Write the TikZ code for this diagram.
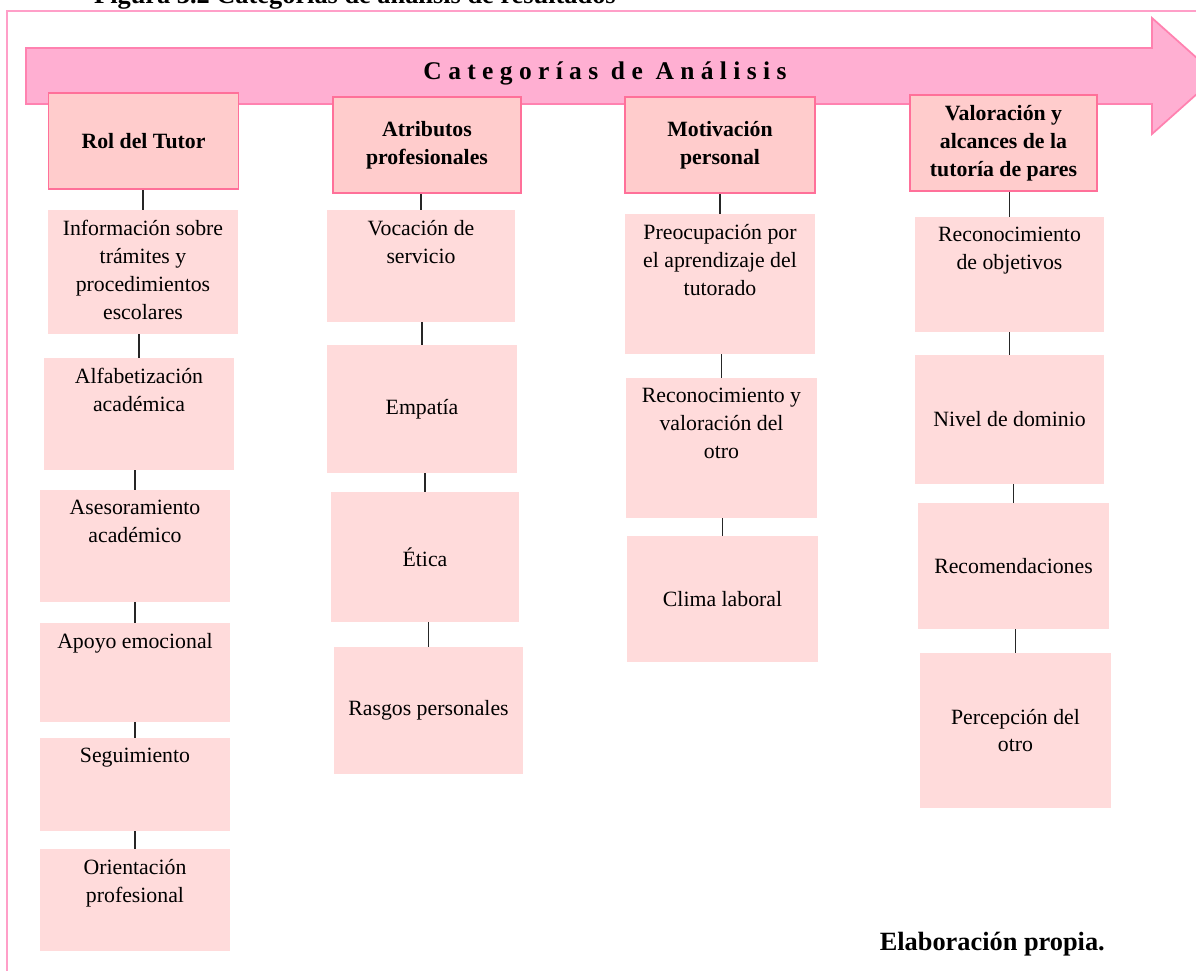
\documentclass[tikz,border=0pt]{standalone}
\usepackage{fontspec}
\usepackage{xcolor}
\usepackage{tikz}
\setmainfont{Liberation Serif}
\newfontfamily\spacedfont{Liberation Serif}[LetterSpace=25]

\definecolor{framepink}{HTML}{FF9FC8}
\definecolor{arrowfill}{HTML}{FFAFD2}
\definecolor{arrowline}{HTML}{FF82B0}
\definecolor{headfill}{HTML}{FFCCCC}
\definecolor{headline}{HTML}{FF7099}
\definecolor{cellfill}{HTML}{FFDBDB}

% text sits at the top of the cell
\newcommand{\toptext}[2]{\parbox[c][#1][t]{3.7cm}{\centering\vspace*{6pt}#2}}

\tikzset{
    boxfont/.style={font=\fontsize{12.4}{15.9}\selectfont},
    head/.style={boxfont,draw=headline,fill=headfill,line width=1.1pt,inner sep=0pt,
        minimum width=3.8cm,minimum height=1.92cm,align=center,font=\fontsize{12.4}{15.9}\selectfont\bfseries},
    cell/.style={boxfont,fill=cellfill,inner sep=0pt,minimum width=3.8cm,align=center},
    tick/.style={line width=1.1pt,black!85}
}

\begin{document}
\begin{tikzpicture}[x=0.02cm,y=-0.02cm]
    \clip (0,0) rectangle (1196,970);
    \node[anchor=base west,font=\fontsize{15}{18}\selectfont\bfseries] (figtitle) at (88,4) {Figura 3.2 Categorías de análisis de resultados};
    \draw[framepink,line width=1.1pt] (7,11) rectangle (1220,1000);

    % big arrow
    \draw[arrowline,fill=arrowfill,line width=1pt] (26,48) -- (1152,48) -- (1152,18) -- (1217,76)
        -- (1152,134) -- (1152,104) -- (26,104) -- cycle;
    \node[font=\fontsize{14.5}{17}\spacedfont\bfseries] (analisis) at (605,73) {Categorías de Análisis};

    % headers
    \node[head] (rol) at (143.5,141) {Rol del Tutor};
    \node[head,minimum width=3.76cm] (atrib) at (427,145) {Atributos\\profesionales};
    \node[head,minimum width=3.8cm] (motiv) at (720,145) {Motivación\\personal};
    \node[head,minimum width=3.74cm] (valor) at (1003.5,143) {Valoración y\\alcances de la\\tutoría de pares};

    % Rol del Tutor
    \node[cell] (info) at (143,272) {\toptext{2.48cm}{Información sobre\\trámites y\\procedimientos\\escolares}};
    \node[cell] (alfab) at (139,414) {\toptext{2.24cm}{Alfabetización\\académica}};
    \node[cell] (asesor) at (135,546) {\toptext{2.24cm}{Asesoramiento\\académico}};
    \node[cell] (apoyo) at (135,672.5) {\toptext{1.98cm}{Apoyo emocional}};
    \node[cell] (seguim) at (135,784.5) {\toptext{1.86cm}{Seguimiento}};
    \node[cell] (orient) at (135,900) {\toptext{2.04cm}{Orientación\\profesional}};

    % Atributos profesionales
    \node[cell,minimum width=3.76cm] (vocac) at (421,266) {\toptext{2.24cm}{Vocación de\\servicio}};
    \node[cell,minimum height=2.56cm] (empat) at (422,409) {Empatía};
    \node[cell,minimum width=3.78cm,minimum height=2.6cm] (etica) at (425,557) {Ética};
    \node[cell,minimum width=3.78cm,minimum height=2.54cm] (rasgos) at (428.5,710.5) {Rasgos personales};

    % Motivacion personal
    \node[cell,minimum width=3.82cm] (preoc) at (720,284) {\toptext{2.8cm}{Preocupación por\\el aprendizaje del\\tutorado}};
    \node[cell,minimum width=3.82cm] (recon) at (721.5,448) {\toptext{2.8cm}{Reconocimiento y\\valoración del\\otro}};
    \node[cell,minimum width=3.82cm,minimum height=2.52cm] (clima) at (722.5,599) {Clima laboral};

    % Valoracion y alcances
    \node[cell,minimum width=3.78cm] (objet) at (1009.5,274.5) {\toptext{2.3cm}{Reconocimiento\\de objetivos}};
    \node[cell,minimum width=3.78cm,minimum height=2.58cm] (nivel) at (1009.5,419.5) {Nivel de dominio};
    \node[cell,minimum width=3.82cm,minimum height=2.52cm] (recom) at (1013.5,566) {Recomendaciones};
    \node[cell,minimum width=3.82cm,minimum height=3.1cm] (percep) at (1015.5,730.5) {Percepción del\\otro};

    % short ticks between boxes
    \foreach \a/\b in {rol/info,info/alfab,alfab/asesor,asesor/apoyo,apoyo/seguim,seguim/orient,
        atrib/vocac,vocac/empat,empat/etica,etica/rasgos,
        motiv/preoc,preoc/recon,recon/clima,
        valor/objet,objet/nivel,nivel/recom,recom/percep}
        \draw[tick] (\b.north) -- (\b.north |- \a.south);

    \node[anchor=base east,font=\fontsize{15}{18}\selectfont\bfseries] (fuente) at (1111,950) {Elaboración propia.};
\end{tikzpicture}
\end{document}
